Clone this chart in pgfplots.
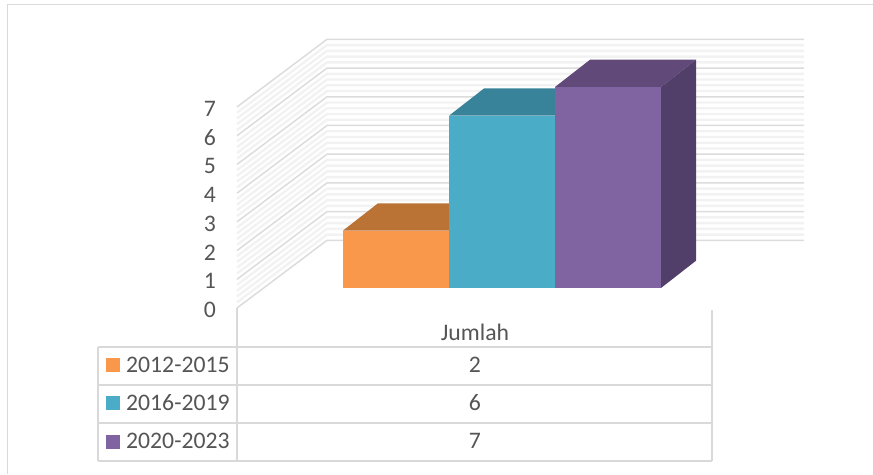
\documentclass[border=0pt]{standalone}
\usepackage{fontspec}
\setmainfont{Carlito}
\usepackage{pgfplots}
\pgfplotsset{compat=1.18}
\definecolor{txt}{HTML}{555555}
\definecolor{rule}{HTML}{D9D9D9}
\definecolor{gmaj}{HTML}{DCDCDC}
\definecolor{gmin}{HTML}{F2F2F2}
\definecolor{oF}{HTML}{F9974A}
\definecolor{oT}{HTML}{BA7235}
\definecolor{tF}{HTML}{4AACC6}
\definecolor{tT}{HTML}{38829A}
\definecolor{pF}{HTML}{8064A2}
\definecolor{pT}{HTML}{614A79}
\definecolor{pS}{HTML}{523F69}
\begin{document}
\begin{tikzpicture}[x=1pt,y=1pt]
\path[use as bounding box] (0,0) rectangle (873,474);
% outer frame
\draw[rule,line width=1.6pt] (7.5,0) -- (7.5,469.5) -- (873,469.5);
% walls and value axis
\begin{axis}[at={(237pt,166pt)},anchor=south west,scale only axis,
  width=567pt,height=201pt,xmin=237,xmax=804,ymin=0,ymax=7,clip=false,
  axis line style={draw=none},tick style={draw=none},xtick=\empty,
  ytick={0,1,2,3,4,5,6,7},
  /pgf/number format/assume math mode=true,
  yticklabel style={font=\fontsize{23.7}{25}\selectfont,text=txt,xshift=-21pt,yshift=-2pt,inner sep=0pt}]
\pgfplotsinvokeforeach{0.2,0.4,0.6,0.8,1.2,1.4,1.6,1.8,2.2,2.4,2.6,2.8,3.2,3.4,3.6,3.8,4.2,4.4,4.6,4.8,5.2,5.4,5.6,5.8,6.2,6.4,6.6,6.8}{
  \pgfmathsetmacro\vb{#1+2.356}
  \edef\temp{\noexpand\addplot[gmin,line width=2.4pt,forget plot] coordinates {(237,#1)(327,\vb)(804,\vb)};}\temp
}
\pgfplotsinvokeforeach{0,1,2,3,4,5,6,7}{
  \pgfmathsetmacro\vb{#1+2.356}
  \edef\temp{\noexpand\addplot[gmaj,line width=1.5pt,forget plot] coordinates {(237,#1)(327,\vb)(804,\vb)};}\temp
}
\end{axis}
% bars
\begin{axis}[at={(343pt,186pt)},anchor=south west,scale only axis,
  width=353pt,height=201pt,xmin=343,xmax=696,ymin=0,ymax=7,clip=false,hide axis]
\addplot[fill=oT,draw=none,forget plot] coordinates {(343,2)(449,2)(484,2.95)(378,2.95)} -- cycle;
\addplot[fill=tT,draw=none,forget plot] coordinates {(449,6)(555,6)(590,6.95)(484,6.95)} -- cycle;
\addplot[fill=pT,draw=none,forget plot] coordinates {(555,7)(661,7)(696,7.95)(590,7.95)} -- cycle;
\addplot[fill=pS,draw=none,forget plot] coordinates {(661,0)(696,0.95)(696,7.95)(661,7)} -- cycle;
\addplot[ybar,bar width=106pt,bar shift=0pt,fill=oF,draw=none] coordinates {(396,2)};
\addplot[ybar,bar width=106pt,bar shift=0pt,fill=tF,draw=none] coordinates {(502,6)};
\addplot[ybar,bar width=106pt,bar shift=0pt,fill=pF,draw=none] coordinates {(608,7)};
\end{axis}
% data table
\draw[rule,line width=1.3pt] (237,166) -- (237,13);
\draw[rule,line width=1.3pt] (712,164) -- (712,13);
\draw[rule,line width=1.3pt] (98,127) -- (98,13);
\foreach \y in {127,89,51,13} \draw[rule,line width=1.3pt] (98,\y) -- (712,\y);
\fill[oF] (106,102) rectangle (120,116);
\fill[tF] (106,64) rectangle (120,78);
\fill[pF] (106,25) rectangle (120,39);
\begin{scope}[every node/.style={text=txt,font=\fontsize{23.7}{25}\selectfont,inner sep=0pt}]
\node[anchor=base west] at (126,101) {2012-2015};
\node[anchor=base west] at (126,63) {2016-2019};
\node[anchor=base west] at (126,25) {2020-2023};
\node[anchor=base] at (475,133) {Jumlah};
\node[anchor=base] at (475,101) {2};
\node[anchor=base] at (475,63) {6};
\node[anchor=base] at (475,25) {7};
\end{scope}
\end{tikzpicture}
\end{document}
